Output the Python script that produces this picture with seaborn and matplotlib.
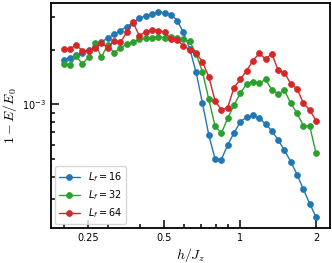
import numpy as np
import pandas as pd
import matplotlib
matplotlib.use("Agg")
import matplotlib.pyplot as plt
import seaborn as sns
from matplotlib.ticker import NullFormatter

# field h/J_z (41 points, log spaced between 0.2 and 2)
h = [0.2000, 0.2119, 0.2244, 0.2377, 0.2518, 0.2667, 0.2825, 0.2993, 0.3170, 0.3358,
     0.3557, 0.3768, 0.3991, 0.4227, 0.4478, 0.4743, 0.5024, 0.5322, 0.5637, 0.5972,
     0.6325, 0.6700, 0.7097, 0.7518, 0.7962, 0.8435, 0.8934, 0.9464, 1.0024, 1.0619,
     1.1247, 1.1914, 1.2619, 1.3367, 1.4159, 1.4998, 1.5887, 1.6829, 1.7825, 1.8882,
     2.0000]

# 1 - E/E0, in units of 1e-3
err_16 = [1.752, 1.805, 1.859, 1.922, 1.989, 2.074, 2.200, 2.314, 2.424, 2.540,
          2.672, 2.810, 2.969, 3.058, 3.136, 3.203, 3.189, 3.110, 2.883, 2.486,
          2.014, 1.499, 1.017, 0.681, 0.501, 0.497, 0.598, 0.696, 0.800, 0.852,
          0.870, 0.838, 0.780, 0.714, 0.637, 0.559, 0.484, 0.411, 0.341, 0.2845,
          0.2404]
err_32 = [1.665, 1.638, 1.835, 1.665, 1.827, 2.163, 1.812, 2.127, 1.922, 2.031,
          2.145, 2.191, 2.276, 2.305, 2.314, 2.354, 2.324, 2.334, 2.305, 2.286,
          2.219, 1.890, 1.512, 1.070, 0.760, 0.693, 0.838, 0.987, 1.149, 1.293,
          1.332, 1.304, 1.372, 1.199, 1.140, 1.194, 1.013, 0.892, 0.760, 0.760,
          0.538]
err_64 = [2.014, 2.014, 2.118, 1.963, 1.963, 2.031, 2.163, 2.048, 2.228, 2.191,
          2.486, 2.822, 2.384, 2.507, 2.551, 2.540, 2.486, 2.295, 2.247, 2.101,
          1.989, 1.906, 1.716, 1.419, 1.047, 0.931, 0.959, 1.235, 1.372, 1.531,
          1.738, 1.906, 1.775, 1.898, 1.537, 1.493, 1.293, 1.219, 1.013, 0.931,
          0.813]

series = [("16", err_16, "#1f77b4"), ("32", err_32, "#2ca02c"), ("64", err_64, "#d62728")]

sns.set_style("ticks", {"axes.edgecolor": "black", "xtick.color": "black",
                        "ytick.color": "black", "text.color": "black",
                        "axes.labelcolor": "black"})
plt.rcParams["font.family"] = ["DejaVu Sans"]

fig = plt.figure(figsize=(3.32, 2.63), dpi=100)
ax = fig.add_axes([0.1536, 0.1331, 0.8404, 0.8555])

for L, vals, col in series:
    df = pd.DataFrame({"h": h, "err": np.array(vals) * 1e-3})
    sns.lineplot(data=df, x="h", y="err", ax=ax, color=col, marker="o",
                 markersize=4.3, markeredgecolor=col, markeredgewidth=0.5,
                 linewidth=1, label=r"$L_f = %s$" % L)

ax.set_xscale("log")
ax.set_yscale("log")
ax.set_xlim(0.1784, 2.272)
ax.set_ylim(0.2091e-3, 3.603e-3)

ax.set_xticks([0.25, 0.5, 1, 2])
ax.set_xticklabels(["0.25", "0.5", "1", "2"])
ax.xaxis.set_minor_formatter(NullFormatter())
ax.yaxis.set_minor_formatter(NullFormatter())

ax.tick_params(which="both", direction="in", labelsize=7, width=1.1, colors="black")
ax.tick_params(which="major", length=5.5)
ax.tick_params(which="minor", length=3)
for s in ax.spines.values():
    s.set_linewidth(1.3)
    s.set_color("black")

ax.set_xlabel(r"$h/J_z$", fontsize=10, math_fontfamily="cm", labelpad=2)
ax.set_ylabel(r"$1 - E/E_0$", fontsize=10, math_fontfamily="cm", labelpad=2)

ax.legend(loc="lower left", fontsize=7, frameon=True, handlelength=2.2,
          borderaxespad=0.4, labelspacing=0.45)

fig.savefig("out.png", dpi=100)
